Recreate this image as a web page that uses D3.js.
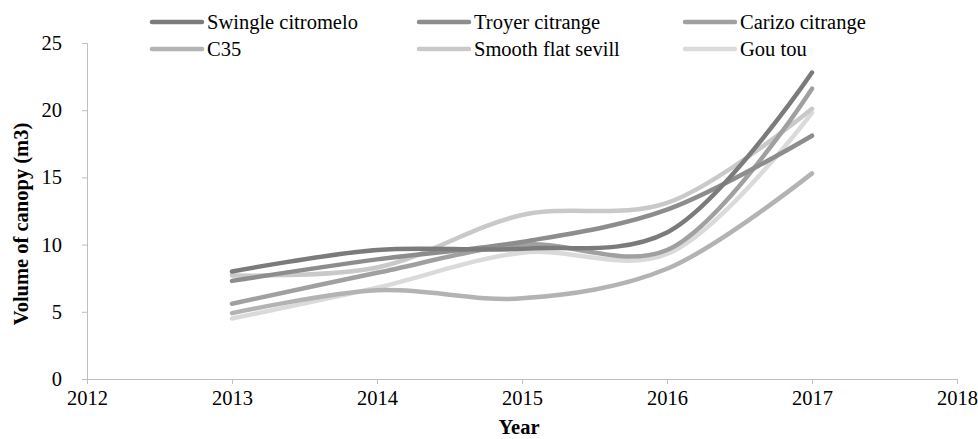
<!DOCTYPE html>
<html>
<head>
<meta charset="utf-8">
<script src="https://cdn.jsdelivr.net/npm/d3@7"></script>
<style>
  body { margin: 0; background: #fff; }
</style>
</head>
<body>
<div id="chart"></div>
<script>
// data
const years = [2013, 2014, 2015, 2016, 2017];
const seriesNames = ["Swingle citromelo", "Troyer citrange", "Carizo citrange", "C35", "Smooth flat sevill", "Gou tou"];
const swingle = [8.0, 9.6, 9.7, 10.9, 22.8];
const troyer = [7.3, 8.9, 10.2, 12.6, 18.1];
const carizo = [5.6, 7.9, 10.0, 9.6, 21.6];
const c35 = [4.9, 6.6, 6.0, 8.2, 15.3];
const smooth = [7.7, 8.3, 12.2, 13.1, 20.1];
const goutou = [4.5, 6.8, 9.4, 9.3, 19.8];
const seriesColors = ["#7b7b7b", "#8d8d8d", "#a0a0a0", "#b3b3b3", "#c9c9c9", "#dadada"];
const xTicks = [2012, 2013, 2014, 2015, 2016, 2017, 2018];
const yTicks = [0, 5, 10, 15, 20, 25];

const allSeries = [swingle, troyer, carizo, c35, smooth, goutou];

const width = 978, height = 439;
const margin = { top: 43, right: 21, bottom: 60, left: 87 };
const FONT = "'Liberation Serif', 'Times New Roman', Tinos, 'DejaVu Serif', serif";
const fs = "20.5px";

const svg = d3.select("#chart")
    .append("svg")
    .attr("width", width)
    .attr("height", height)
    .style("font-family", FONT);

const x = d3.scaleLinear()
    .domain([2012, 2018])
    .range([margin.left, width - margin.right]);

const y = d3.scaleLinear()
    .domain([0, 25])
    .range([height - margin.bottom, margin.top]);

// y axis
svg.append("g")
    .attr("transform", `translate(${margin.left},0)`)
    .call(d3.axisLeft(y).tickValues(yTicks).tickSize(5).tickPadding(20))
    .attr("font-family", null)
    .call(g => g.select(".domain").attr("stroke", "#bfbfbf"))
    .call(g => g.selectAll(".tick line").attr("stroke", "#bfbfbf"))
    .call(g => g.selectAll(".tick text").attr("font-size", fs).attr("fill", "#000").style("font-family", FONT));

// x axis
svg.append("g")
    .attr("transform", `translate(0,${height - margin.bottom})`)
    .call(d3.axisBottom(x).tickValues(xTicks).tickFormat(d3.format("d")).tickSize(5).tickPadding(6))
    .attr("font-family", null)
    .call(g => g.select(".domain").attr("stroke", "#bfbfbf"))
    .call(g => g.selectAll(".tick line").attr("stroke", "#bfbfbf"))
    .call(g => g.selectAll(".tick text").attr("font-size", fs).attr("fill", "#000").style("font-family", FONT));

// axis titles
svg.append("text")
    .attr("x", 519)
    .attr("y", 434)
    .attr("text-anchor", "middle")
    .attr("font-size", fs)
    .attr("font-weight", "bold")
    .style("font-family", FONT)
    .text("Year");

svg.append("text")
    .attr("transform", "translate(28,224) rotate(-90)")
    .attr("text-anchor", "middle")
    .attr("font-size", fs)
    .attr("font-weight", "bold")
    .style("font-family", FONT)
    .text("Volume of canopy (m3)");

// smoothed lines (excel style)
const line = d3.line()
    .x((d, i) => x(years[i]))
    .y(d => y(d))
    .curve(d3.curveCatmullRom.alpha(0.5));

svg.append("g")
    .selectAll("path")
    .data(allSeries.map((v, i) => ({ v, i })).reverse())
    .join("path")
    .attr("fill", "none")
    .attr("stroke", d => seriesColors[d.i])
    .attr("stroke-width", 4.5)
    .attr("stroke-linecap", "round")
    .attr("d", d => line(d.v));

// legend
const legendCols = [150, 417, 683];
const legendRows = [22, 49];
const legend = svg.append("g");
seriesNames.forEach((name, i) => {
    const lx = legendCols[i % 3], ly = legendRows[Math.floor(i / 3)];
    legend.append("line")
        .attr("x1", lx + 2).attr("x2", lx + 52)
        .attr("y1", ly).attr("y2", ly)
        .attr("stroke", seriesColors[i])
        .attr("stroke-width", 4.5)
        .attr("stroke-linecap", "round");
    legend.append("text")
        .attr("x", lx + 57)
        .attr("y", ly)
        .attr("dy", "0.33em")
        .attr("font-size", fs)
        .style("font-family", FONT)
        .text(name);
});
</script>
</body>
</html>
